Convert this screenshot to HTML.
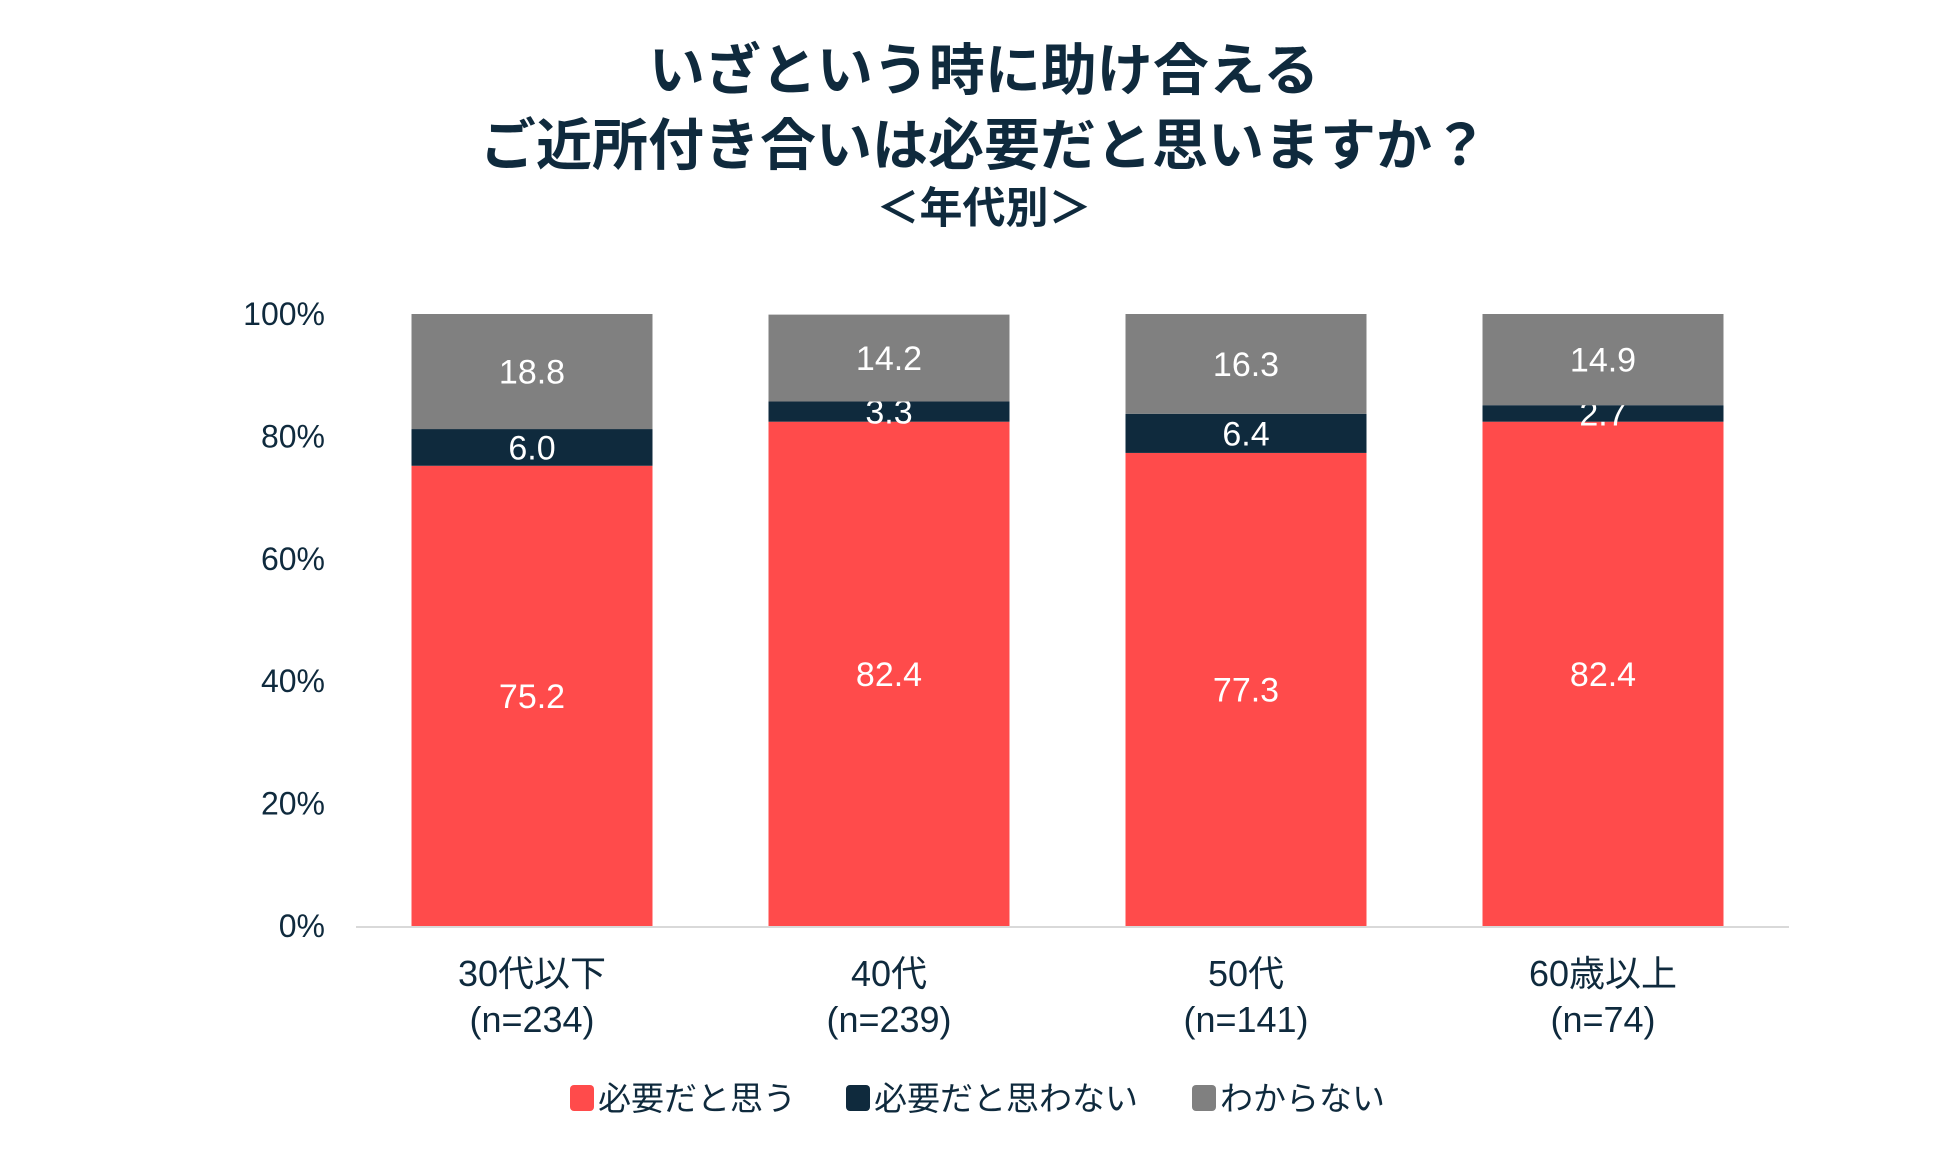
<!DOCTYPE html>
<html><head><meta charset="utf-8"><style>
body{margin:0;background:#fff;}
svg text{font-family:"Liberation Sans","Noto Sans CJK JP",sans-serif;}
</style></head><body>
<svg width="1950" height="1148" viewBox="0 0 1950 1148">
<text x="984" y="90" text-anchor="middle" font-size="56" font-weight="bold" fill="#0f2a3d">いざという時に助け合える</text>
<text x="984" y="165" text-anchor="middle" font-size="56" font-weight="bold" fill="#0f2a3d">ご近所付き合いは必要だと思いますか？</text>
<text x="984" y="223" text-anchor="middle" font-size="43" font-weight="bold" fill="#0f2a3d">＜年代別＞</text>
<g id="plot"></g>
<g>
<rect x="570" y="1085" width="24" height="26" rx="4" fill="#ff4b4b"/>
<text x="598" y="1110" font-size="33" fill="#0f2a3d">必要だと思う</text>
<rect x="846" y="1085" width="24" height="26" rx="4" fill="#0f2a3d"/>
<text x="874" y="1110" font-size="33" fill="#0f2a3d">必要だと思わない</text>
<rect x="1192" y="1085" width="24" height="26" rx="4" fill="#808080"/>
<text x="1220" y="1110" font-size="33" fill="#0f2a3d">わからない</text>
</g>
</svg>
<script>
const categories=["30代以下","40代","50代","60歳以上"];
const sampleSizes=["(n=234)","(n=239)","(n=141)","(n=74)"];
const needValues=[75.2,82.4,77.3,82.4];
const notNeedValues=[6.0,3.3,6.4,2.7];
const unknownValues=[18.8,14.2,16.3,14.9];
const yTicks=[0,20,40,60,80,100];

const NS="http://www.w3.org/2000/svg";
const g=document.getElementById("plot");
const y0=926,y1=314,bw=241,x0=532,step=357;
const yScale=v=>y0-(v/100)*(y0-y1);
const xCenter=i=>x0+i*step;
function mk(t,a){const e=document.createElementNS(NS,t);for(const k in a)e.setAttribute(k,a[k]);g.appendChild(e);return e;}
yTicks.forEach(t=>{
  const e=mk("text",{x:325,y:yScale(t)+11,"text-anchor":"end","font-size":32,fill:"#0f2a3d"});
  e.textContent=t+"%";
  
  
});
const series=[[needValues,"#ff4b4b","bar-need"],[notNeedValues,"#0f2a3d","bar-not-need"],[unknownValues,"#808080","bar-unknown"]];
categories.forEach((c,i)=>{
  let cum=0;
  series.forEach(([vals,col,nm])=>{
    const v=vals[i];
    const top=yScale(cum+v),bot=yScale(cum);
    const r=mk("rect",{x:xCenter(i)-bw/2,y:top,width:bw,height:bot-top,fill:col});
    
    
    const t=mk("text",{x:xCenter(i),y:(top+bot)/2+12,"text-anchor":"middle","font-size":34,fill:"#fff"});
    t.textContent=v.toFixed(1);
    
    
    cum+=v;
  });
  const l1=mk("text",{x:xCenter(i),y:986,"text-anchor":"middle","font-size":36,fill:"#0f2a3d"});
  l1.textContent=c;
  
  
  const l2=mk("text",{x:xCenter(i),y:1032,"text-anchor":"middle","font-size":36,fill:"#0f2a3d"});
  l2.textContent=sampleSizes[i];
  
  
});
const ax=mk("line",{x1:356,x2:1789,y1:y0+1,y2:y0+1,stroke:"#d9d9d9","stroke-width":2});


</script>
</body></html>
